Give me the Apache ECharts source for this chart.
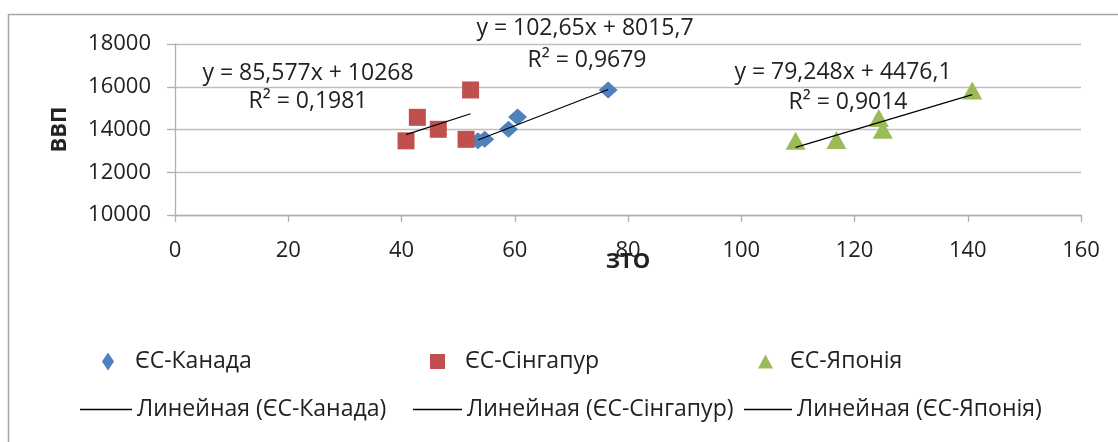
<!DOCTYPE html>
<html>
<head>
    <title>ЗТО - ВВП</title>
    <meta charset="utf-8" />
    <script src="https://cdn.jsdelivr.net/npm/echarts@6/dist/echarts.min.js"></script>
    <style type="text/css">
        html,
        body {
            width: 100%;
            height: 100%;
            margin: 0;
            background: #fff;
        }

        #main {
            width: 1118px;
            height: 442px;
        }
    </style>
</head>

<body>
    <div id="main"></div>
    <script>
        // дані
        var names = ['ЄС-Канада', 'ЄС-Сінгапур', 'ЄС-Японія'];
        var trendNames = ['Линейная (ЄС-Канада)', 'Линейная (ЄС-Сінгапур)', 'Линейная (ЄС-Японія)'];
        var canadaX = [53.5, 54.7, 58.9, 60.5, 76.5];
        var canadaY = [13470, 13540, 14010, 14590, 15850];
        var singaporeX = [40.8, 51.4, 46.5, 42.8, 52.2];
        var singaporeY = [13470, 13540, 14010, 14570, 15850];
        var japanX = [109.6, 116.8, 125.0, 124.3, 140.8];
        var japanY = [13470, 13510, 13990, 14540, 15820];
        // коефіцієнти лінійних трендів (з підписів)
        var slopes = [102.65, 85.577, 79.248];
        var intercepts = [8015.7, 10268, 4476.1];
        var eqLabels = ['y = 102,65x + 8015,7', 'y = 85,577x + 10268', 'y = 79,248x + 4476,1'];
        var r2Labels = ['R² = 0,9679', 'R² = 0,1981', 'R² = 0,9014'];
        var xTicks = { min: 0, max: 160, interval: 20 };
        var yTicks = { min: 10000, max: 18000, interval: 2000 };

        var colors = ['#4F81BD', '#C0504D', '#9BBB59'];
        var symbols = ['diamond', 'rect', 'triangle'];
        var symbolSizes = [[19, 17], 17, [20, 18]];
        var xs = [canadaX, singaporeX, japanX];
        var ys = [canadaY, singaporeY, japanY];
        var font = '"Open Sans", "Noto Sans", sans-serif';

        function pairs(x, y) {
            return x.map(function (v, i) { return [v, y[i]]; });
        }

        var series = [];
        for (var i = 0; i < 3; i++) {
            series.push({
                name: names[i],
                type: 'scatter',
                symbol: symbols[i],
                symbolSize: symbolSizes[i],
                itemStyle: { color: colors[i], opacity: 1 },
                data: pairs(xs[i], ys[i]),
                z: 3
            });
        }
        for (var j = 0; j < 3; j++) {
            var x0 = Math.min.apply(null, xs[j]);
            var x1 = Math.max.apply(null, xs[j]);
            series.push({
                name: trendNames[j],
                type: 'line',
                symbol: 'none',
                silent: true,
                lineStyle: { color: '#000', width: 1.2 },
                itemStyle: { color: '#000' },
                data: [[x0, slopes[j] * x0 + intercepts[j]], [x1, slopes[j] * x1 + intercepts[j]]],
                z: 4
            });
        }

        // легенди: по одному елементу, щоб розставити як в оригіналі
        var legendLeft = [102, 430, 758];
        var legendIconW = [12, 15, 15];
        var legendIconH = [18, 15, 14];
        var legendPad = [16, 15, 12];
        var legendLineLeft = [80, 413, 744];
        var legendLineW = [52, 49, 48];
        var legends = [];
        for (var k = 0; k < 3; k++) {
            legends.push({
                data: [{ name: names[k], icon: symbols[k] }],
                left: legendLeft[k],
                top: 350,
                padding: 0,
                itemWidth: legendIconW[k],
                itemHeight: legendIconH[k],
                itemGap: 0,
                textStyle: { fontFamily: font, fontSize: 23, color: '#222', padding: [0, 0, 0, legendPad[k]] },
                selectedMode: false
            });
            legends.push({
                data: [{ name: trendNames[k], icon: 'rect' }],
                left: legendLineLeft[k],
                top: 398,
                padding: 0,
                itemWidth: legendLineW[k],
                itemHeight: 1.3,
                itemGap: 0,
                textStyle: { fontFamily: font, fontSize: 23, color: '#222' },
                selectedMode: false
            });
        }

        var eqPos = [[585, 28], [308, 73], [843, 72]];
        var r2Pos = [[587, 60], [308, 101], [848, 102]];
        var graphics = [{
            type: 'rect',
            shape: { x: 8.5, y: 14.5, width: 1200, height: 500 },
            style: { fill: 'none', stroke: '#A6A6A6', lineWidth: 1.5 },
            silent: true
        }];
        for (var m = 0; m < 3; m++) {
            graphics.push({
                type: 'text', x: eqPos[m][0], y: eqPos[m][1], z: 10,
                style: { text: eqLabels[m], fontFamily: font, fontSize: 23, fill: '#222', align: 'center', verticalAlign: 'middle' }
            });
            graphics.push({
                type: 'text', x: r2Pos[m][0], y: r2Pos[m][1], z: 10,
                style: { text: r2Labels[m], fontFamily: font, fontSize: 23, fill: '#222', align: 'center', verticalAlign: 'middle' }
            });
        }

        var myChart = echarts.init(document.getElementById('main'), null, { renderer: 'canvas' });
        var option = {
            backgroundColor: '#fff',
            animation: false,
            color: colors,
            grid: { left: 175, right: 37, top: 44, bottom: 227, containLabel: false },
            legend: legends,
            graphic: graphics,
            xAxis: {
                type: 'value',
                min: xTicks.min,
                max: xTicks.max,
                interval: xTicks.interval,
                name: 'ЗТО',
                nameLocation: 'middle',
                nameGap: 36,
                nameMoveOverlap: false,
                nameTextStyle: { fontFamily: font, fontSize: 22, fontWeight: 'bold', color: '#222' },
                axisLine: { show: true, lineStyle: { color: '#B0B0B0', width: 1.3 } },
                axisTick: { show: true, length: 7, lineStyle: { color: '#B0B0B0', width: 1.3 } },
                axisLabel: { margin: 25, fontFamily: font, fontSize: 22, color: '#222' },
                splitLine: { show: false }
            },
            yAxis: {
                type: 'value',
                min: yTicks.min,
                max: yTicks.max,
                interval: yTicks.interval,
                name: 'ВВП',
                nameLocation: 'middle',
                nameGap: 104,
                nameMoveOverlap: false,
                nameTextStyle: { fontFamily: font, fontSize: 22, fontWeight: 'bold', color: '#222' },
                axisLine: { show: true, lineStyle: { color: '#B0B0B0', width: 1.3 } },
                axisTick: { show: true, length: 8, lineStyle: { color: '#B0B0B0', width: 1.3 } },
                axisLabel: {
                    margin: 24, fontFamily: font, fontSize: 22, color: '#222',
                    formatter: function (v) { return String(v); }
                },
                splitLine: { show: true, lineStyle: { color: '#BEBEBE', width: 1.3 } }
            },
            series: series
        };
        myChart.setOption(option);
    </script>
</body>
</html>
